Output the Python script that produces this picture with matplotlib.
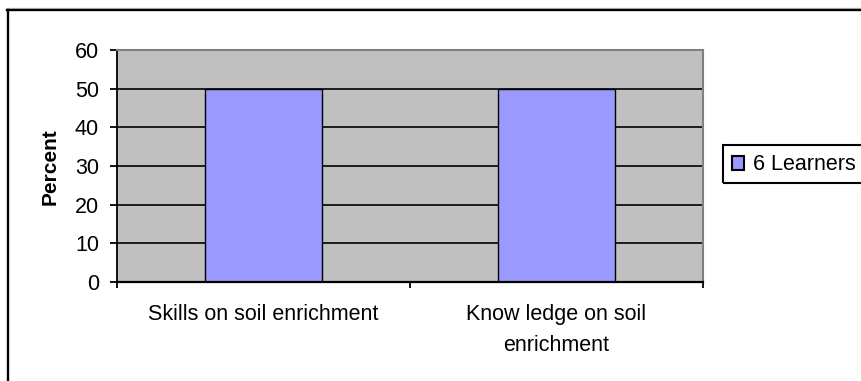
import matplotlib
matplotlib.use("Agg")
import matplotlib.pyplot as plt
from matplotlib.patches import Rectangle
from matplotlib.lines import Line2D

categories = ["Skills on soil enrichment", "Know ledge on soil\nenrichment"]
learners_pct = [50, 50]
series_name = "6 Learners"
y_ticks = [0, 10, 20, 30, 40, 50, 60]

plt.rcParams["font.family"] = ["Liberation Sans", "DejaVu Sans"]
FS = 15.5

W, H = 861, 381
fig = plt.figure(figsize=(W / 100, H / 100), dpi=100)
fig.patch.set_facecolor("white")

# plot area in pixel coordinates
left, right, top, bottom = 117, 703, 50, 282
ax = fig.add_axes([left / W, 1 - bottom / H, (right - left) / W, (bottom - top) / H])
ax.set_facecolor("#C0C0C0")

x = [i + 0.5 for i in range(len(categories))]
ax.bar(x, learners_pct, width=0.4, color="#9999FF", edgecolor="black",
       linewidth=1.0, zorder=3, label=series_name)

ax.set_xlim(0, len(categories))
ax.set_ylim(0, 60)
ax.set_yticks(y_ticks)
ax.set_yticklabels([str(v) for v in y_ticks], fontsize=FS)
for v in y_ticks[1:-1]:
    ax.axhline(v, color="black", linewidth=1.2, zorder=1)

ax.tick_params(axis="y", direction="out", length=5, width=1.3, pad=8, colors="black")

# category boundary ticks (major) and centred labels (minor)
ax.set_xticks(range(len(categories) + 1))
ax.set_xticklabels([])
ax.tick_params(axis="x", which="major", direction="out", length=4.5, width=1.3)
ax.set_xticks(x, minor=True)
ax.set_xticklabels(categories, minor=True, fontsize=FS, linespacing=1.6)
ax.tick_params(axis="x", which="minor", length=0, pad=16)

for side in ("top", "right"):
    ax.spines[side].set_color("#808080")
    ax.spines[side].set_linewidth(1.5)
ax.spines["left"].set_color("black")
ax.spines["left"].set_linewidth(1.3)
ax.spines["bottom"].set_color("black")
ax.spines["bottom"].set_linewidth(1.6)
ax.spines["bottom"].set_zorder(4)

fig.text(50 / W, 1 - 167 / H, "Percent", rotation=90, ha="center", va="center",
         fontsize=15, fontweight="bold")

# legend
leg = fig.legend(loc="center left", bbox_to_anchor=(732 / W, 1 - 165 / H),
                 frameon=False, fontsize=FS, handlelength=0.55, handleheight=0.6,
                 handletextpad=0.42, borderpad=0, borderaxespad=0)
for h in leg.legend_handles:
    h.set_linewidth(1.5)
fig.patches.append(Rectangle((723 / W, 1 - 183 / H), 160 / W, 38 / H,
                             transform=fig.transFigure, facecolor="none",
                             edgecolor="black", linewidth=1.5))

# outer chart border (top and left edges)
fig.add_artist(Line2D([7 / W, 1.0], [1 - 8.3 / H, 1 - 8.3 / H], transform=fig.transFigure,
                      color="#C8C8C8", linewidth=1.0))
fig.add_artist(Line2D([7 / W, 1.0], [1 - 10 / H, 1 - 10 / H], transform=fig.transFigure,
                      color="black", linewidth=1.7))
fig.add_artist(Line2D([8 / W, 8 / W], [1 - 10 / H, 0.0], transform=fig.transFigure,
                      color="black", linewidth=1.7))

fig.savefig("out.png", dpi=100)
